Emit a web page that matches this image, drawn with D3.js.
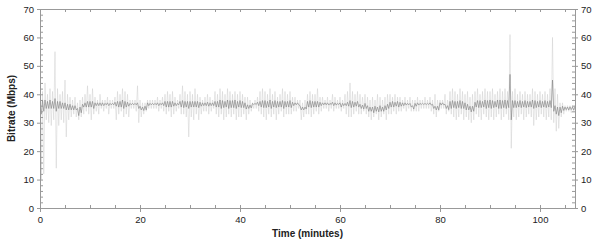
<!DOCTYPE html>
<html>
<head>
<meta charset="utf-8">
<script src="https://cdn.jsdelivr.net/npm/d3@7"></script>
<style>
  body { margin: 0; background: #fff; }
  svg text { font-family: "Liberation Sans", Arial, sans-serif; }
</style>
</head>
<body>
<div id="chart"></div>
<script>
// one reading pair (high / low) every half minute
const timeStep = 0.5;

const xTicks = [0, 20, 40, 60, 80, 100];
const yTicks = [0, 10, 20, 30, 40, 50, 60, 70];

// light trace: peak and trough of the raw bitrate per half minute
const lightHi = [
  47,41,44,40,42,41,55,42,40,41, 45,40,39,38,39,37,38,39,40,43,
  40,42,39,38,40,38,38,39,38,38, 39,41,40,42,41,40,38,38,38,43,
  38,37,37,38,38,38,38,39,38,39, 40,41,40,41,39,38,40,43,41,40,
  41,40,42,40,39,38,39,40,39,38, 41,40,42,41,40,42,41,40,41,40,
  41,40,39,39,38,37,38,39,41,42, 41,40,42,40,41,39,40,42,41,40,
  41,39,39,38,38,37,38,40,41,40, 40,42,39,39,38,39,38,40,39,38,
  39,38,40,41,44,41,40,41,40,39, 40,39,38,39,38,40,39,38,39,40,
  40,39,40,39,39,38,39,38,39,38, 38,39,38,38,39,38,39,38,40,38,
  38,38,40,38,41,42,41,40,42,41, 40,41,39,40,41,42,40,41,42,41,
  41,42,40,41,42,41,42,41,61,41, 42,40,41,40,41,40,40,42,41,40,
  41,40,41,40,42,60,42,40,37,37, 36,36,36,36,36
];
const lightLo = [
  10,12,31,30,29,31,14,29,31,30, 25,31,32,33,32,31,32,33,34,33,
  31,33,34,33,35,34,35,33,35,35, 31,33,34,32,33,32,35,35,34,30,
  32,33,34,35,35,35,35,34,35,34, 33,34,32,33,34,35,33,33,32,25,
  32,31,33,31,33,34,34,33,34,35, 33,32,33,31,32,33,32,33,31,32,
  32,33,31,33,34,35,35,34,33,32, 31,33,32,33,31,33,34,32,33,33,
  33,34,34,35,31,32,33,33,32,33, 34,33,34,35,35,34,35,34,35,35,
  34,35,33,32,32,33,34,33,33,34, 33,32,31,32,33,31,32,33,31,33,
  33,34,33,34,34,35,34,35,34,34, 34,34,35,35,35,35,34,33,32,34,
  35,35,33,34,33,32,31,32,33,31, 32,31,30,31,33,32,31,33,32,31,
  32,31,32,33,31,32,33,31,21,32, 31,32,33,31,32,33,32,29,31,32,
  33,32,31,32,31,30,27,28,32,33, 34,34,33.5,34,34
];

// dark trace: smoothed bitrate, high / low per half minute
const darkHi = [
  36,38,38,37.5,38,37.5,38.5,37.5,37.5,37, 37,36.5,36.5,36,36,35,35.5,36.5,37,37.5,
  37.5,37.5,37,37,37,37,36.8,37,36.8,36.8, 37.2,37.5,37.5,38,37.5,37.2,36.8,36.8,36.8,37,
  35.8,35.5,35.8,37,36.8,36.8,36.8,37,36.8,37, 37.5,37.5,37.5,37.5,37,36.8,37.5,37.8,37.5,37.5,
  37.5,37.5,37.5,37.5,37.2,37,37,37.2,37,37, 37.5,37.5,38,37.8,37.5,38,37.8,37.8,38,37.5,
  37.8,37.5,37,36.3,36.2,36.8,36.8,37.2,37.5,37.8, 37.8,37.5,38,37.5,37.8,37.5,37.5,37.8,37.5,37.5,
  37.8,37.2,37,37,36,35.5,35.5,37.5,37.8,37.5, 37.5,37.5,37.2,37,37,37,36.8,37.2,37,36.8,
  37,36.8,36.8,37.2,37.8,37.5,37.2,37.5,36.5,36.2, 36.8,36,35.5,35.5,35.8,35.5,36,35.5,36,36.5,
  37.2,37.5,37.2,37.5,37.2,37,37,36.8,36.8,36, 36.8,37,36.8,36.8,36.8,36.8,37,36.5,35.8,35.8,
  37,37,36.5,36,37.5,37.8,37.5,37.5,37.8,37.5, 37,36.5,35.8,35.8,37.2,37.8,37.8,37.5,38,37.8,
  38,37.8,37.5,38,38,37.8,38,37.8,47,37.8, 37.8,37.5,37.8,37.5,37.8,37.5,37.5,38,37.8,37.5,
  37.8,37.5,37.8,37.5,37.8,45,36,35.5,35.5,35.8, 35.5,35.5,35.6,35.5,35.6
];
const darkLo = [
  33,34,35,35,35,35,34,35,35,35, 34.5,34.5,34.5,34.5,34.5,32.5,33.5,35.5,35.5,35.5,
  35.5,35,36,36,36,36,36.3,36,36.3,36.3, 35.8,35.5,35.5,35,35.5,35.8,36.3,36.3,36.3,35,
  34.5,34.3,34.5,36,36.3,36.3,36.3,36,36.3,36, 35.5,35.5,35.5,35.8,36,36.3,35.5,35.3,35.5,35,
  35.5,35.5,35.5,35.3,35.8,36,36,35.8,36,36, 35.5,35.5,35,35.3,35.5,35,35.3,35.3,35,35.5,
  35.3,35.3,34.8,35,35.2,36.4,36.4,36,35.5,35.3, 35.3,35.5,35,35.5,35.3,35.5,35.5,35,35.5,35.5,
  35.3,36,36.3,36.3,34.5,34.5,34.8,35.5,35.3,35.5, 35.5,35.5,36,36.3,36.3,36.2,36.4,36,36.2,36.4,
  35.5,36,36,35.8,35.3,35.5,35.8,35.5,35,34.8, 35,34,34,33.5,34,33.8,34,34,34.5,35,
  35.5,35.5,35.8,35.5,35.8,36,36.2,36.3,35.5,34.8, 35.8,36.2,36.4,36.4,36.4,36.4,36.2,35,34.5,34.5,
  36.2,36.3,35,34.6,35,35.3,35,35.3,35,35, 34.5,34.5,33.8,34,35.5,35.3,35.3,35.5,35,35.3,
  35,35.3,35.5,35,35,35.3,35,35.3,31,35.3, 35.3,35.5,35.3,35.5,35.3,35.5,35.5,35,35.3,35.5,
  35.3,35.5,35.3,35.5,35.3,34,33,32.5,33.5,34.3, 34.6,34.5,34.6,34.5,34.6
];

const margin = { top: 9, right: 25, bottom: 35, left: 40 };
const width = 600 - margin.left - margin.right;
const height = 243 - margin.top - margin.bottom;

const svg = d3.select('#chart')
  .append('svg')
  .attr('width', 600)
  .attr('height', 243)
  .append('g')
  .attr('transform', `translate(${margin.left},${margin.top})`);

const x = d3.scaleLinear().domain([0, 107]).range([0, width]);
const y = d3.scaleLinear().domain([0, 70]).range([height, 0]);

svg.append('clipPath').attr('id', 'plot-clip')
  .append('rect').attr('width', width).attr('height', height);

// high then low for each step, so the trace swings like the raw samples
const zigzag = (hi, lo) => hi.flatMap((h, i) => [
  { t: i * timeStep, v: h },
  { t: i * timeStep + timeStep / 2, v: lo[i] }
]);

const line = d3.line().x(d => x(d.t)).y(d => y(d.v));

svg.append('path')
  .datum(zigzag(lightHi, lightLo))
  .attr('clip-path', 'url(#plot-clip)')
  .attr('fill', 'none')
  .attr('stroke', '#cfcfcf')
  .attr('stroke-width', 0.5)
  .attr('d', line);

svg.append('path')
  .datum(zigzag(darkHi, darkLo))
  .attr('clip-path', 'url(#plot-clip)')
  .attr('fill', 'none')
  .attr('stroke', '#808080')
  .attr('stroke-width', 0.6)
  .attr('d', line);

// axes: minor ticks point inward, major ticks outward with labels
const xMinor = d3.range(0, 108, 5);
const yMinor = d3.range(0, 71, 2);

const styleAxis = g => {
  g.select('.domain').attr('stroke', '#999');
  g.selectAll('.tick line').attr('stroke', '#999');
  g.selectAll('.tick text')
    .attr('fill', '#222')
    .style('font-size', '9.5px');
};

svg.append('g')
  .call(d3.axisTop(x).tickValues(xMinor).tickSize(-3).tickSizeOuter(0).tickFormat(''))
  .call(styleAxis);

svg.append('g')
  .attr('transform', `translate(0,${height})`)
  .call(d3.axisBottom(x).tickValues(xMinor).tickSize(-3).tickSizeOuter(0).tickFormat(''))
  .call(styleAxis);

svg.append('g')
  .attr('transform', `translate(0,${height})`)
  .call(d3.axisBottom(x).tickValues(xTicks).tickSize(4).tickSizeOuter(0).tickPadding(4))
  .call(styleAxis);

svg.append('g')
  .call(d3.axisLeft(y).tickValues(yMinor).tickSize(-3).tickSizeOuter(0).tickFormat(''))
  .call(styleAxis);

svg.append('g')
  .call(d3.axisLeft(y).tickValues(yTicks).tickSize(3).tickSizeOuter(0).tickPadding(3))
  .call(styleAxis);

svg.append('g')
  .attr('transform', `translate(${width},0)`)
  .call(d3.axisRight(y).tickValues(yMinor).tickSize(-3).tickSizeOuter(0).tickFormat(''))
  .call(styleAxis);

svg.append('g')
  .attr('transform', `translate(${width},0)`)
  .call(d3.axisRight(y).tickValues(yTicks).tickSize(3).tickSizeOuter(0).tickPadding(3))
  .call(styleAxis);

svg.append('text')
  .attr('x', width / 2)
  .attr('y', height + 29)
  .attr('text-anchor', 'middle')
  .style('font-size', '10px')
  .style('font-weight', 'bold')
  .attr('fill', '#222')
  .text('Time (minutes)');

svg.append('text')
  .attr('transform', `translate(${-margin.left + 15},${height / 2}) rotate(-90)`)
  .attr('text-anchor', 'middle')
  .style('font-size', '10px')
  .style('font-weight', 'bold')
  .attr('fill', '#222')
  .text('Bitrate (Mbps)');
</script>
</body>
</html>
